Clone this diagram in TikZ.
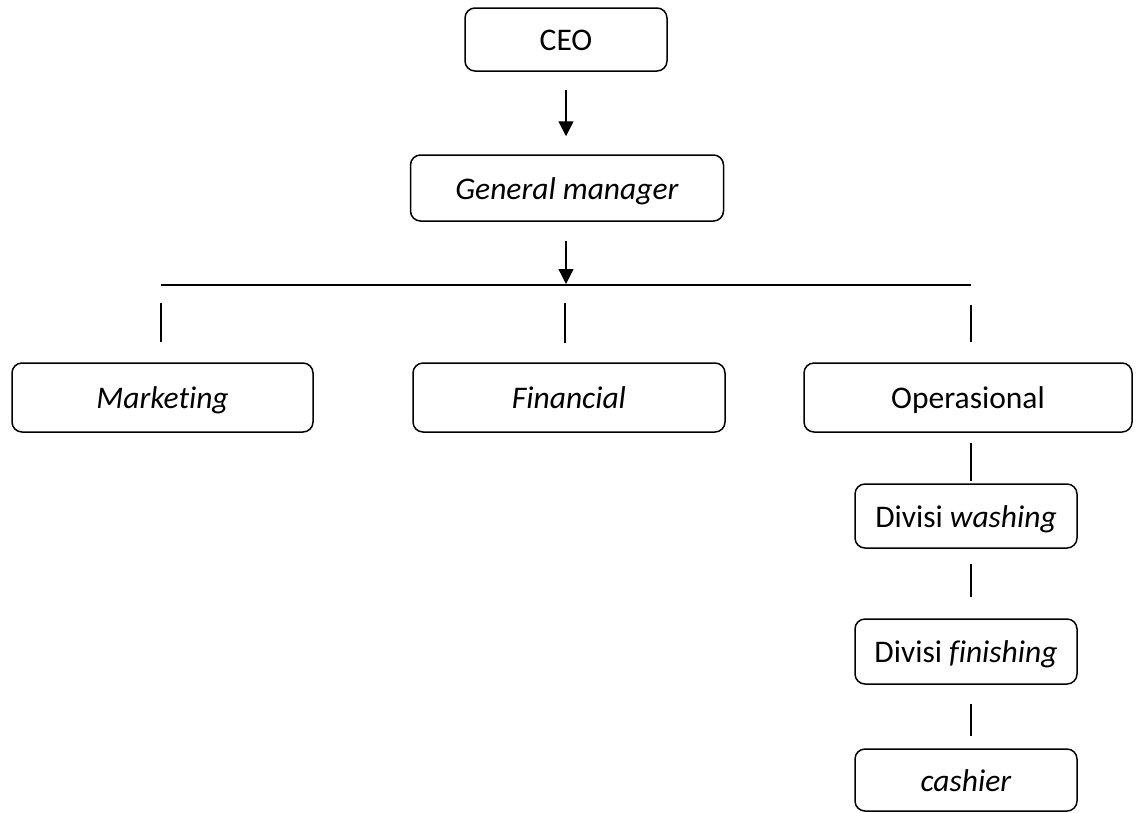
\documentclass[tikz,border=0pt]{standalone}
\usepackage{fontspec}
\setmainfont[Ligatures=NoCommon]{Carlito}
\usetikzlibrary{arrows.meta}
\begin{document}
\begin{tikzpicture}[x=1pt,y=-1pt,
  orgbox/.style={draw, line width=1.5pt, rounded corners=10pt, inner sep=0pt,
    font=\fontsize{31.5}{36}\selectfont, text height=24pt, text depth=2pt},
  link/.style={line width=1.3pt},
  arr/.style={line width=1.3pt, -{Triangle[length=15pt,width=15pt]}}]
\useasboundingbox (0,0) rectangle (1139,812);
\node[orgbox, minimum width=202pt, minimum height=63pt] (ceo) at (566,39.5) {CEO};
\node[orgbox, minimum width=313pt, minimum height=66pt] (gm) at (567,188) {\textit{General manager}};
\node[orgbox, minimum width=301pt, minimum height=69pt] (mkt) at (162.5,397.5) {\textit{Marketing}};
\node[orgbox, minimum width=312pt, minimum height=69pt] (fin) at (569,397.5) {\textit{Financial}};
\node[orgbox, minimum width=328pt, minimum height=69pt] (op) at (968,397.5) {Operasional};
\node[orgbox, minimum width=222pt, minimum height=64pt] (wash) at (966,516) {Divisi \textit{washing}};
\node[orgbox, minimum width=222pt, minimum height=65pt] (fini) at (966,651.5) {Divisi \textit{finishing}};
\node[orgbox, minimum width=222pt, minimum height=62pt] (cash) at (966,780) {\textit{cashier}};
\coordinate (barL) at (161,285);
\coordinate (barR) at (971,285);
\draw[line width=1.6pt] (barL) -- (barR);
\draw[arr, shorten <=18pt, shorten >=18pt] (ceo.south) -- (ceo.south |- gm.north);
\draw[arr, shorten <=19pt, shorten >=1pt] (ceo.south |- gm.south) -- (ceo.south |- barL);
\draw[link, shorten <=20pt, shorten >=18pt] (barL |- mkt.north) -- (barL);
\draw[link, shorten <=20pt, shorten >=18pt] (565,363) coordinate (finTop) -- (finTop |- barL);
\draw[link, shorten <=20pt, shorten >=20pt] (barR |- op.north) -- (barR);
\draw[link, shorten <=10pt, shorten >=2pt] (barR |- op.south) -- (barR |- wash.north);
\draw[link, shorten <=15pt, shorten >=21pt] (barR |- wash.south) -- (barR |- fini.north);
\draw[link, shorten <=19pt, shorten >=12pt] (barR |- fini.south) -- (barR |- cash.north);
\end{tikzpicture}
\end{document}
